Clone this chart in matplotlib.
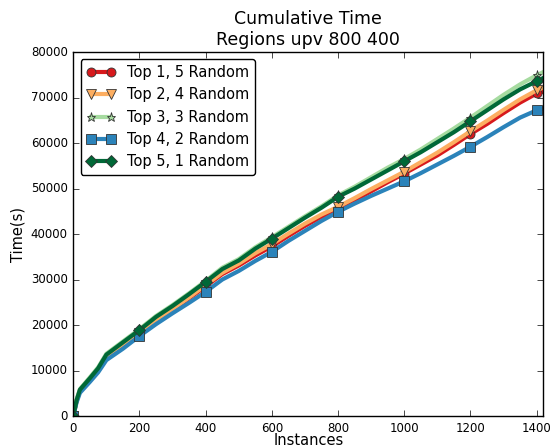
import matplotlib
matplotlib.use('Agg')
import matplotlib.pyplot as plt

plt.style.use('classic')
plt.rcParams['figure.facecolor'] = 'white'
plt.rcParams['font.family'] = ['DejaVu Sans']

instances = [0, 10, 20, 50, 75, 100, 150, 200, 250, 300, 350, 400, 450, 500, 550, 600,
             650, 700, 750, 800, 850, 900, 950, 1000, 1050, 1100, 1150, 1200, 1250,
             1300, 1350, 1400, 1420]

top1 = [0, 3300, 5500, 8000, 10100, 12900, 15600, 18000, 20900, 23300, 25900, 28500,
        31200, 33100, 35300, 37300, 39600, 41800, 43800, 45600, 47400, 49400, 51400,
        53300, 55300, 57300, 59600, 62000, 64200, 66600, 68900, 70900, 71300]
top2 = [0, 3400, 5600, 8100, 10200, 13000, 15800, 18200, 21100, 23500, 26100, 28800,
        31500, 33500, 35800, 37800, 40100, 42300, 44300, 46000, 47900, 49900, 51800,
        53700, 55800, 57900, 60200, 62600, 64900, 67300, 69600, 71600, 72200]
top3 = [0, 3600, 5900, 8500, 10700, 13700, 16400, 19100, 22000, 24400, 27000, 29700,
        32600, 34500, 37100, 39300, 41600, 43900, 46100, 48500, 50400, 52500, 54600,
        56500, 58600, 60900, 63200, 65600, 68100, 70600, 72900, 74900, 75600]
top4 = [0, 3000, 5100, 7500, 9600, 12300, 14800, 17600, 20200, 22600, 24900, 27300,
        30000, 31900, 34100, 36100, 38500, 40700, 42900, 44900, 46700, 48400, 50000,
        51600, 53400, 55300, 57200, 59200, 61300, 63500, 65600, 67200, 67600]
top5 = [0, 3500, 5800, 8300, 10500, 13500, 16200, 18900, 21800, 24200, 26800, 29500,
        32300, 34200, 36800, 39000, 41300, 43600, 45800, 48200, 50000, 52000, 54000,
        56000, 58000, 60200, 62400, 64800, 67200, 69600, 71800, 73600, 74300]

series = [
    ("Top 1, 5 Random", top1, '#d7191c', 'o'),
    ("Top 2, 4 Random", top2, '#fdae61', 'v'),
    ("Top 3, 3 Random", top3, '#a6dba0', '*'),
    ("Top 4, 2 Random", top4, '#2b83ba', 's'),
    ("Top 5, 1 Random", top5, '#006837', 'D'),
]

marks = [i for i, x in enumerate(instances) if x % 200 == 0]

fig, ax = plt.subplots(figsize=(5.51, 4.45), dpi=100)
for label, vals, color, m in series:
    ax.plot(instances, vals, color=color, lw=3, marker=m, markevery=marks,
            markersize=6.5, markeredgecolor='#333333', markeredgewidth=0.6,
            label=label)

ax.set_title("Cumulative Time\nRegions upv 800 400", fontsize=12.5)
ax.set_xlabel("Instances", fontsize=10.5, labelpad=-1)
ax.set_ylabel("Time(s)", fontsize=10.5)
ax.yaxis.set_label_coords(-0.102, 0.5)
ax.set_xlim(0, 1420)
ax.set_ylim(0, 80000)
ax.tick_params(labelsize=8.5, pad=4)
ax.legend(loc='upper left', numpoints=2, fontsize=10.5, fancybox=True,
          borderaxespad=0.5)

fig.subplots_adjust(left=0.133, right=0.986, top=0.883, bottom=0.065)
plt.savefig("out.png", dpi=100)
